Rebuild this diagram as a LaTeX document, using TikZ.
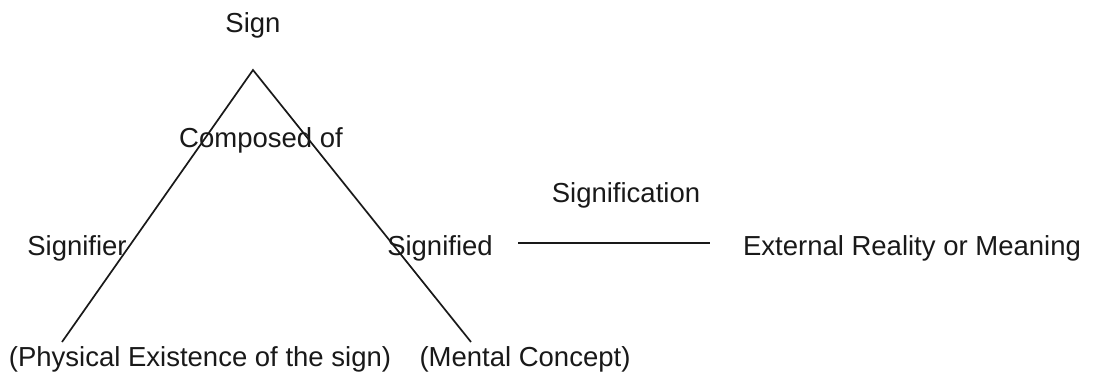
\documentclass[tikz,border=0pt]{standalone}
\usepackage{fontspec}
\setmainfont{Liberation Sans}
\begin{document}
\begin{tikzpicture}[x=1pt,y=-1pt,
  lbl/.style={inner sep=0pt, anchor=base, text=black!90, font=\fontsize{27.5}{30}\selectfont},
  ln/.style={line width=1.7pt, draw=black!90}]
\useasboundingbox[fill=white] (0,0) rectangle (1095,377);
\node[lbl] (sign) at (253,33) {Sign};
\node[lbl] (composed) at (261,148) {Composed of};
\node[lbl] (signifier) at (77,255) {Signifier};
\node[lbl] (signified) at (440,255) {Signified};
\node[lbl] (signification) at (626,202) {Signification};
\node[lbl] (external) at (912,255) {External Reality or Meaning};
\node[lbl] (physical) at (200,366) {(Physical Existence of the sign)};
\node[lbl] (mental) at (525,366) {(Mental Concept)};
\coordinate (apex) at (253,70);
\coordinate (lend) at (62,342);
\coordinate (rend) at (471,342);
\coordinate (hl) at (518,243);
\coordinate (hr) at (710,243);
\draw[ln] (lend) -- (apex) -- (rend);
\draw[ln, line width=1.4pt] (hl) -- (hr);
\end{tikzpicture}
\end{document}
